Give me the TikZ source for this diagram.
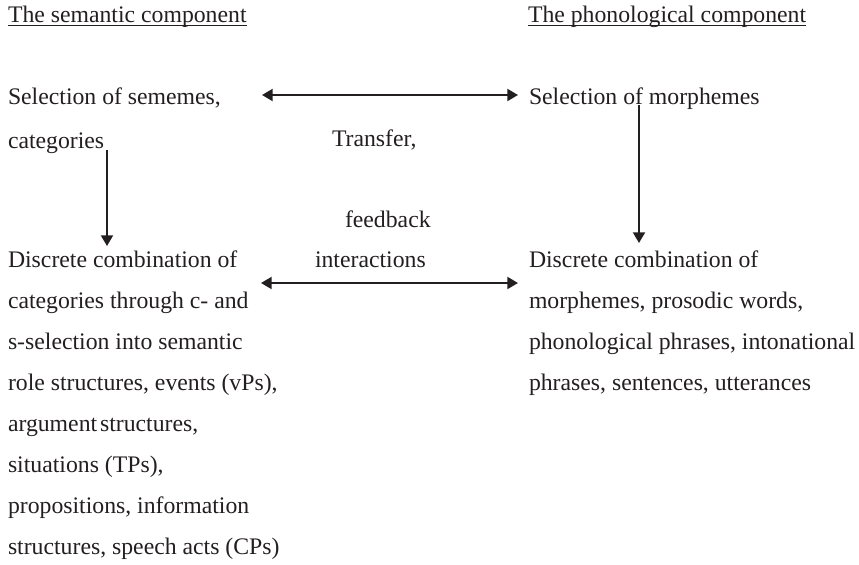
\documentclass[tikz,border=0pt]{standalone}
\usepackage{fontspec}
\setmainfont{Liberation Serif}
\usetikzlibrary{arrows.meta}
\definecolor{ink}{RGB}{35,31,32}
\begin{document}
\begin{tikzpicture}[x=0.75pt,y=-0.75pt,
  txt/.style={anchor=base west,inner sep=0pt,outer sep=0pt,align=left,text=ink,
    font=\fontsize{17.8}{30.75}\selectfont},
  conn/.style={draw=ink,line width=1.5pt,
    {Triangle[length=8pt,width=9pt]}-{Triangle[length=8pt,width=9pt]}},
  down/.style={draw=ink,line width=1.5pt,-{Triangle[length=8pt,width=9pt]}},
  uline/.style={draw=ink,line width=0.9pt}]
\useasboundingbox (0,0) rectangle (859,564);
% multi-line nodes: base anchor is the baseline of the last line
\node[txt] (h1) at (8,22) {The semantic component};
\node[txt] (h2) at (528,22) {The phonological component};
\draw[uline] ([yshift=-2.6pt]h1.base west) -- ([yshift=-2.6pt]h1.base east);
\draw[uline] ([yshift=-2.6pt]h2.base west) -- ([yshift=-2.6pt]h2.base east);
\node[txt,font=\fontsize{17.8}{33}\selectfont] (semsel) at (8,148) {Selection of sememes,\\categories};
\node[txt] (morphsel) at (529,104) {Selection of morphemes};
\node[txt] (transfer) at (332,146) {Transfer,};
\node[txt] (feedback) at (345,227) {feedback};
\node[txt] (inter) at (315,267) {interactions};
\node[txt] (discsem) at (8,554) {Discrete combination of\\categories through c- and\\s-selection into semantic\\role structures, events (vPs),\\argument\hspace{0.12em}structures,\\situations (TPs),\\propositions, information\\structures, speech acts (CPs)};
\node[txt] (discphon) at (529,390) {Discrete combination of\\morphemes, prosodic words,\\phonological phrases, intonational\\phrases, sentences, utterances};
\draw[conn] ([shift={(254,-53)}]semsel.base west) -- ([shift={(-11,-9)}]morphsel.base west);
\draw[conn] ([shift={(253,-271)}]discsem.base west) -- ([shift={(-11,-107)}]discphon.base west);
\draw[down] ([shift={(99,2)}]semsel.base west) -- ([shift={(99,-308)}]discsem.base west);
\draw[down] ([shift={(110,1)}]morphsel.base west) -- ([shift={(110,-147)}]discphon.base west);
\end{tikzpicture}
\end{document}
